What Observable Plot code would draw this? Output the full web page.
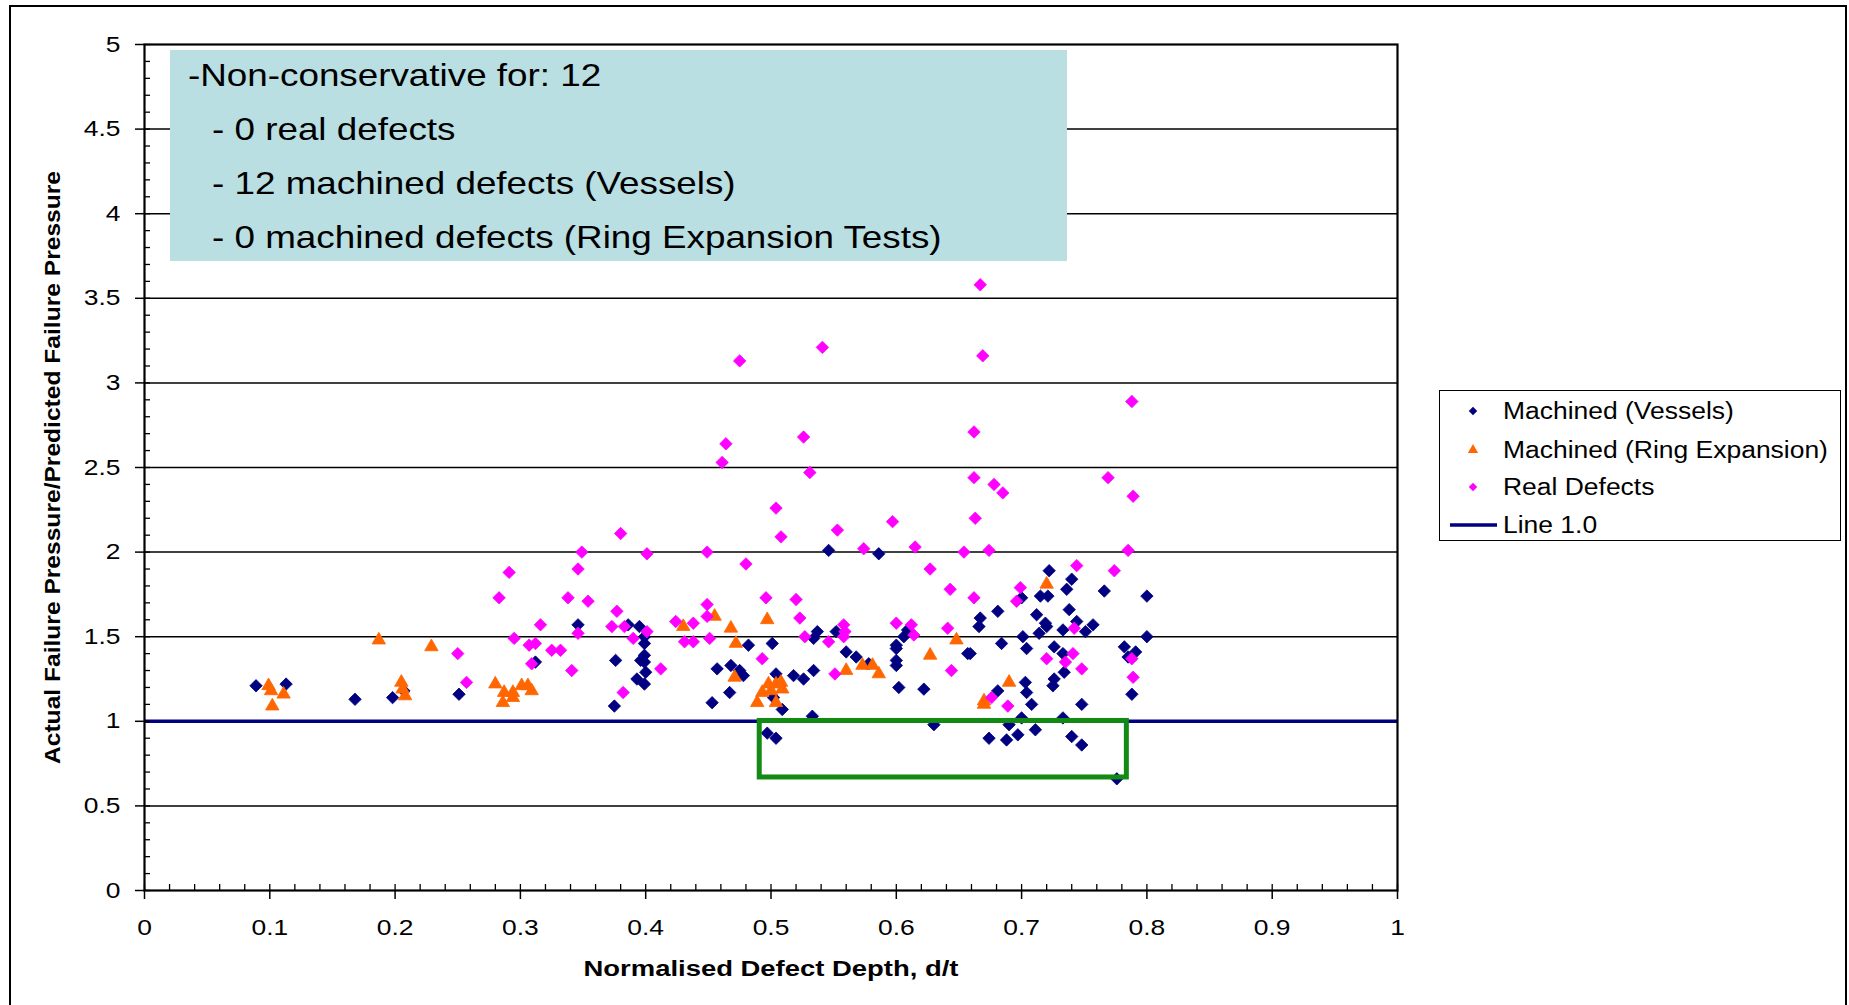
<!DOCTYPE html>
<html>
<head>
<meta charset="utf-8">
<script src="https://cdn.jsdelivr.net/npm/d3@7"></script>
<script src="https://cdn.jsdelivr.net/npm/@observablehq/plot@0.6"></script>
<style>
  html, body { margin: 0; padding: 0; background: #fff; overflow: hidden; }
  #wrap { position: relative; width: 1849px; height: 1005px; font-family: "Liberation Sans", Arial, sans-serif; color: #000; }
  #chart { position: absolute; left: 0; top: 0; }
  #border { position: absolute; left: 9px; top: 5px; width: 1838px; height: 1020px; border: 2px solid #000; box-sizing: border-box; pointer-events: none; }
  #note { position: absolute; left: 170px; top: 50px; width: 897px; height: 211px; background: #b9dfe3; }
  .note-line { position: absolute; white-space: nowrap; font-size: 32px; line-height: 54px; height: 54px; transform: scaleX(1.15); transform-origin: 0 0; }
  #legend { position: absolute; left: 1439px; top: 390px; width: 402px; height: 151px; border: 1.5px solid #000; box-sizing: border-box; background: #fff; }
  .leg-row { position: absolute; left: 0; width: 400px; height: 36px; }
  .leg-row svg { position: absolute; left: 0; top: 0; }
  .leg-text { position: absolute; left: 63px; top: 0; height: 36px; line-height: 36px; font-size: 23px; white-space: nowrap; transform: scaleX(1.15); transform-origin: 0 50%; }
</style>
</head>
<body>
<div id="wrap">
  <div id="chart"></div>
  <div id="note"></div>
  <div id="legend"></div>
  <div id="border"></div>
</div>
<script>
// ---------------- data ----------------
// Machined (Vessels): [d/t, ratio]
const vessels = [
  [0.089,1.21],[0.113,1.22],[0.168,1.13],[0.198,1.14],[0.207,1.18],[0.251,1.16],[0.312,1.35],
  [0.346,1.57],[0.375,1.09],[0.376,1.36],[0.386,1.57],[0.395,1.56],[0.399,1.50],[0.399,1.46],
  [0.399,1.39],[0.396,1.36],[0.399,1.35],[0.400,1.29],[0.393,1.25],[0.399,1.22],[0.453,1.11],
  [0.457,1.31],[0.467,1.17],[0.468,1.33],[0.475,1.30],[0.478,1.27],[0.482,1.45],[0.497,0.93],
  [0.501,1.46],[0.502,1.14],[0.504,1.28],[0.504,0.90],[0.509,1.07],[0.518,1.27],[0.526,1.25],
  [0.533,1.03],[0.534,1.30],[0.534,1.49],[0.537,1.53],[0.546,2.01],[0.552,1.53],[0.560,1.41],
  [0.568,1.38],[0.578,1.34],[0.586,1.99],[0.600,1.45],[0.600,1.43],[0.600,1.36],[0.600,1.33],
  [0.602,1.20],[0.606,1.50],[0.609,1.54],[0.622,1.19],[0.630,0.98],[0.657,1.40],[0.659,1.40],
  [0.666,1.56],[0.667,1.61],[0.674,0.90],[0.681,1.65],[0.681,1.18],[0.684,1.46],[0.688,0.89],
  [0.690,0.98],[0.697,0.92],[0.700,1.02],[0.700,1.73],[0.701,1.50],[0.703,1.23],[0.704,1.43],
  [0.704,1.17],[0.708,1.10],[0.711,0.95],[0.712,1.63],[0.714,1.52],[0.715,1.74],[0.719,1.58],
  [0.720,1.56],[0.721,1.74],[0.722,1.89],[0.725,1.21],[0.726,1.25],[0.726,1.44],[0.733,1.54],
  [0.733,1.40],[0.734,1.29],[0.733,1.02],[0.736,1.78],[0.738,1.66],[0.740,1.84],[0.740,0.91],
  [0.744,1.59],[0.748,1.10],[0.748,0.86],[0.751,1.53],[0.757,1.57],[0.766,1.77],[0.776,0.66],
  [0.782,1.44],[0.785,1.38],[0.788,1.16],[0.791,1.41],[0.800,1.74],[0.800,1.50]
];
// Machined (Ring Expansion)
const ring = [
  [0.099,1.21],[0.101,1.18],[0.111,1.16],[0.102,1.09],[0.187,1.48],[0.205,1.23],[0.206,1.19],
  [0.208,1.15],[0.229,1.44],[0.280,1.22],[0.287,1.17],[0.286,1.11],[0.294,1.17],[0.294,1.14],
  [0.301,1.21],[0.306,1.21],[0.309,1.18],[0.430,1.56],[0.455,1.62],[0.468,1.55],[0.472,1.46],
  [0.497,1.60],[0.471,1.26],[0.489,1.11],[0.493,1.17],[0.498,1.22],[0.500,1.18],[0.504,1.22],
  [0.508,1.23],[0.509,1.19],[0.504,1.11],[0.560,1.30],[0.573,1.33],[0.581,1.33],[0.586,1.28],
  [0.627,1.39],[0.648,1.48],[0.670,1.12],[0.670,1.10],[0.690,1.23],[0.720,1.81]
];
// Real Defects
const real = [
  [0.250,1.40],[0.257,1.23],[0.283,1.73],[0.291,1.88],[0.295,1.49],[0.307,1.45],[0.312,1.46],
  [0.309,1.34],[0.316,1.57],[0.325,1.42],[0.332,1.42],[0.338,1.73],[0.341,1.30],[0.346,1.90],
  [0.349,2.00],[0.346,1.52],[0.354,1.71],[0.373,1.56],[0.377,1.65],[0.380,2.11],[0.382,1.17],
  [0.383,1.56],[0.390,1.49],[0.401,1.99],[0.401,1.53],[0.412,1.31],[0.424,1.59],[0.431,1.47],
  [0.438,1.58],[0.438,1.47],[0.449,2.00],[0.449,1.69],[0.449,1.62],[0.451,1.49],[0.461,2.53],
  [0.464,2.64],[0.475,3.13],[0.480,1.93],[0.493,1.37],[0.496,1.73],[0.504,2.26],[0.508,2.09],
  [0.520,1.72],[0.523,1.61],[0.526,2.68],[0.527,1.50],[0.531,2.47],[0.541,3.21],[0.546,1.47],
  [0.551,1.28],[0.553,2.13],[0.558,1.57],[0.559,1.53],[0.558,1.50],[0.574,2.02],[0.597,2.18],
  [0.600,1.58],[0.612,1.57],[0.614,1.51],[0.615,2.03],[0.627,1.90],[0.641,1.55],[0.643,1.78],
  [0.644,1.30],[0.654,2.00],[0.662,2.71],[0.662,2.44],[0.662,1.73],[0.663,2.20],[0.667,3.58],
  [0.669,3.16],[0.674,2.01],[0.676,1.14],[0.678,2.40],[0.685,2.35],[0.689,1.09],[0.696,1.71],
  [0.699,1.79],[0.720,1.37],[0.735,1.35],[0.741,1.40],[0.742,1.55],[0.744,1.92],[0.748,1.31],
  [0.769,2.44],[0.774,1.89],[0.785,2.01],[0.788,2.89],[0.788,1.37],[0.789,2.33],[0.789,1.26]
];
const refLevel = [1.0];                                   // "Line 1.0"
const highlight = [{x1: 0.491, x2: 0.784, y1: 0.668, y2: 1.002}]; // green box around non-conservative points
const xTicks = [0, 0.1, 0.2, 0.3, 0.4, 0.5, 0.6, 0.7, 0.8, 0.9, 1];
const yTicks = [0, 0.5, 1, 1.5, 2, 2.5, 3, 3.5, 4, 4.5, 5];
const seriesNames = ["Machined (Vessels)", "Machined (Ring Expansion)", "Real Defects", "Line 1.0"];
const xTitle = "Normalised Defect Depth, d/t";
const yTitle = "Actual Failure Pressure/Predicted Failure Pressure";
const noteLines = ["-Non-conservative for: 12", "- 0 real defects", "- 12 machined defects (Vessels)", "- 0 machined defects (Ring Expansion Tests)"];

// ---------------- styles ----------------
const colVessels = "#000080", colRing = "#FF6600", colReal = "#FF00FF", colLine = "#000080";
const W = 1849, H = 1005, mL = 144, mR = 452, mT = 44, mB = 115;
const plotW = W - mL - mR, plotH = H - mT - mB;
const xMinor = d3.range(0, 51).map(i => i / 50);
const yMinor = d3.range(0, 51).map(i => i / 10);
const fmt = v => String(+v.toFixed(1));
const rDiamond = 5.6, rTriangle = 5.0;

const chart = Plot.plot({
  width: W, height: H,
  marginLeft: mL, marginRight: mR, marginTop: mT, marginBottom: mB,
  x: {domain: [0, 1]},
  y: {domain: [0, 5]},
  style: {fontFamily: '"Liberation Sans", Arial, sans-serif', color: "#000", background: "transparent", overflow: "visible"},
  marks: [
    Plot.gridY(yTicks.filter(v => v > 0 && v < 5), {stroke: "#000", strokeOpacity: 1, strokeWidth: 1.5}),
    Plot.ruleY(refLevel, {stroke: colLine, strokeWidth: 3.5}),
    Plot.dot(vessels, {x: d => d[0], y: d => d[1], symbol: "diamond2", r: rDiamond, fill: colVessels, stroke: colVessels, strokeWidth: 0.8}),
    Plot.dot(ring, {x: d => d[0], y: d => d[1], symbol: "triangle", r: rTriangle, fill: colRing, stroke: colRing, strokeWidth: 0.8}),
    Plot.dot(real, {x: d => d[0], y: d => d[1], symbol: "diamond2", r: rDiamond, fill: colReal, stroke: colReal, strokeWidth: 0.8}),
    Plot.rect(highlight, {x1: "x1", x2: "x2", y1: "y1", y2: "y2", fill: "none", stroke: "#138a13", strokeWidth: 5}),
    Plot.tickY(yMinor, {stroke: "#000", strokeWidth: 1.3, insetRight: plotW - 6}),
    Plot.tickX(xMinor, {stroke: "#000", strokeWidth: 1.3, insetTop: plotH - 6}),
    Plot.axisY(yTicks, {anchor: "left", tickSize: 9, tickPadding: 15, fontSize: 22, tickFormat: fmt, label: null, strokeWidth: 1.5}),
    Plot.axisX(xTicks, {anchor: "bottom", tickSize: 9, tickPadding: 20, fontSize: 22, tickFormat: fmt, label: null, strokeWidth: 1.5}),
    Plot.frame({stroke: "#000", strokeWidth: 2.2}),
    Plot.text([xTitle], {frameAnchor: "bottom", dy: 78, lineAnchor: "middle", textAnchor: "middle", fontSize: 22, fontWeight: "bold"}),
    Plot.text([yTitle], {frameAnchor: "left", dx: -92, rotate: -90, lineAnchor: "middle", textAnchor: "middle", fontSize: 22, fontWeight: "bold"})
  ]
});
document.getElementById("chart").appendChild(chart);

// horizontal stretch of text to mimic the reference's wide glyphs
function stretch(sel, s) {
  chart.querySelectorAll(sel).forEach(t => {
    const xa = t.getAttribute("x");
    if (xa && +xa !== 0) return;
    t.setAttribute("transform", (t.getAttribute("transform") || "") + ` scale(${s},1)`);
  });
}
stretch('g[aria-label="x-axis tick label"] text', 1.2);
stretch('g[aria-label="y-axis tick label"] text', 1.2);
chart.querySelectorAll("text").forEach(t => {
  if (t.textContent === xTitle) { t.setAttribute("textLength", 375); t.setAttribute("lengthAdjust", "spacingAndGlyphs"); }
  if (t.textContent === yTitle) { t.setAttribute("textLength", 593); t.setAttribute("lengthAdjust", "spacingAndGlyphs"); }
});

// annotation box
const note = document.getElementById("note");
const noteLeft = [18, 42];
noteLines.forEach((s, i) => {
  const d = document.createElement("div");
  d.className = "note-line";
  d.textContent = s;
  d.style.left = (i === 0 ? noteLeft[0] : noteLeft[1]) + "px";
  d.style.top = (-2 + i * 54) + "px";
  note.appendChild(d);
});

// legend
const legend = document.getElementById("legend");
const rowTop = [2, 41, 78, 116];
const legendSymbols = [d3.symbolDiamond2, d3.symbolTriangle, d3.symbolDiamond2, null];
const legendColors = [colVessels, colRing, colReal, colLine];
seriesNames.forEach((name, i) => {
  const row = document.createElement("div");
  row.className = "leg-row";
  row.style.top = rowTop[i] + "px";
  const svg = d3.create("svg").attr("width", 62).attr("height", 36);
  if (legendSymbols[i]) {
    svg.append("path").attr("transform", "translate(33,18)")
      .attr("d", d3.symbol(legendSymbols[i], Math.PI * 3.8 * 3.8)()).attr("fill", legendColors[i]);
  } else {
    svg.append("line").attr("x1", 10).attr("x2", 57).attr("y1", 18).attr("y2", 18)
      .attr("stroke", legendColors[i]).attr("stroke-width", 3.5);
  }
  row.appendChild(svg.node());
  const tx = document.createElement("div");
  tx.className = "leg-text";
  tx.textContent = name;
  row.appendChild(tx);
  legend.appendChild(row);
});
</script>
</body>
</html>
